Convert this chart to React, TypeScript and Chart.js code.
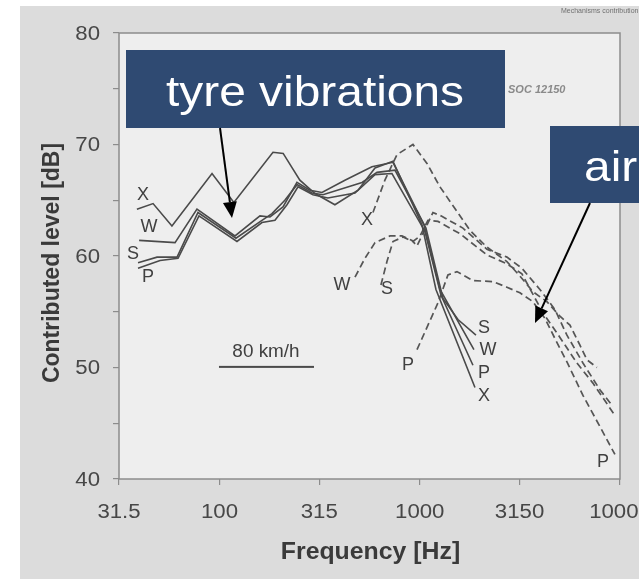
import React, { useEffect, useRef } from 'react';
import { Chart, registerables } from 'chart.js';

Chart.register(...registerables);

// ---------- axis ticks ----------
const X_TICKS = [31.5, 100, 315, 1000, 3150, 10000];
const X_TICK_LABELS = ['31.5', '100', '315', '1000', '3150', '10000'];
const Y_LABEL_TICKS = [40, 50, 60, 70, 80];

// ---------- tyre vibrations (solid) ----------
const SX_F = [38.7, 46.6, 57.9, 91.8, 118, 185, 208, 252, 300, 377, 492, 598, 735, 1026, 1205, 1887];
const SX_DB = [64.2, 64.7, 62.7, 67.4, 64.8, 69.3, 69.2, 66.8, 65.6, 64.6, 65.9, 67.9, 68.5, 62.8, 57.0, 48.2];
const SW_F = [39.7, 60.0, 77.2, 119.5, 159.3, 178.7, 207.6, 243.7, 283, 325, 423, 577, 735, 1050, 1262, 1865];
const SW_DB = [61.4, 61.2, 64.2, 61.8, 63.6, 63.5, 64.4, 66.6, 65.9, 65.7, 66.8, 68.0, 68.4, 62.8, 57.0, 51.6];
const SS_F = [39.2, 48.8, 61.4, 78.1, 120.9, 163, 182.9, 212, 244, 289.7, 328.6, 515, 612, 752, 1074, 1306, 1552, 1909];
const SS_DB = [59.4, 59.9, 59.9, 63.9, 61.6, 63.2, 63.8, 65.0, 66.4, 65.65, 65.5, 66.6, 67.5, 67.7, 62.5, 56.2, 54.3, 52.9];
const SP_F = [39.2, 50.5, 62.1, 79.0, 122.3, 163, 189.3, 217.3, 246.7, 293, 348, 475, 598, 726.6, 1062, 1276, 1844];
const SP_DB = [58.9, 59.6, 59.8, 63.6, 61.3, 63.0, 63.2, 64.6, 66.2, 65.5, 65.2, 65.65, 67.3, 67.4, 62.2, 56.5, 50.2];

// ---------- air pumping (dashed) ----------
const DX_F = [584, 670, 770, 925, 1087, 1262, 1534, 1781, 2166, 2725, 3165, 3676, 4317, 5013, 5624, 6309, 6832, 7667];
const DX_DB = [63.9, 66.8, 69.1, 70.0, 68.3, 66.2, 64.0, 62.3, 60.8, 59.5, 58.2, 56.8, 55.9, 54.6, 53.8, 52.0, 50.7, 50.0];
const DW_F = [475, 533, 598, 710, 815, 915, 969, 1164, 1276, 1643, 2166, 2725, 3238, 3982, 4731, 5433, 6531, 7939, 9218];
const DW_DB = [58.1, 59.8, 61.2, 61.8, 61.8, 61.4, 60.9, 63.9, 63.6, 62.5, 60.6, 59.9, 58.9, 57.0, 55.2, 52.9, 50.4, 48.0, 46.5];
const DS_F = [640, 686, 735, 825, 925, 1003, 1099, 1233, 1588, 2166, 2725, 3238, 4123, 5013, 6094, 7325, 9433];
const DS_DB = [57.4, 59.5, 61.3, 61.7, 61.3, 61.8, 63.2, 63.1, 62.0, 60.1, 59.3, 58.4, 54.9, 52.7, 50.4, 48.6, 45.7];
const DP_F = [969, 1233, 1383, 1534, 1844, 2321, 2725, 3165, 3676, 4219, 4731, 5433, 6531, 7939, 9433];
const DP_DB = [51.6, 55.8, 58.3, 58.6, 57.8, 57.7, 57.2, 56.7, 55.9, 54.4, 52.6, 50.5, 47.5, 44.7, 42.2];

// ---------- curve labels ----------
const CURVE_LABELS = ['X', 'W', 'S', 'P', 'S', 'W', 'P', 'X', 'X', 'W', 'S', 'P', 'P'];
const CURVE_LABEL_F = [41.5, 44.5, 37.0, 44.0, 2092, 2191, 2092, 2092, 545, 409, 686, 873, 8219];
const CURVE_LABEL_DB = [65.5, 62.6, 60.2, 58.1, 53.5, 51.6, 49.5, 47.4, 63.2, 57.4, 57.0, 50.2, 41.5];
const SPEED_LABEL = '80 km/h';
const SPEED_F = 170.7;
const SPEED_DB = 51.4;

const FONT = '"Liberation Sans", Arial, sans-serif';

function txt(ctx: CanvasRenderingContext2D, s: string, x: number, y: number, font: string, color: string,
  align: CanvasTextAlign = 'center', base: CanvasTextBaseline = 'middle', sx = 1) {
  ctx.save();
  ctx.font = font;
  ctx.fillStyle = color;
  ctx.textAlign = align;
  ctx.textBaseline = base;
  ctx.translate(x, y);
  ctx.scale(sx, 1);
  ctx.fillText(s, 0, 0);
  ctx.restore();
}

function arrow(ctx: CanvasRenderingContext2D, x1: number, y1: number, x2: number, y2: number, head = 16, w = 7) {
  const ang = Math.atan2(y2 - y1, x2 - x1);
  const bx = x2 - head * Math.cos(ang);
  const by = y2 - head * Math.sin(ang);
  ctx.save();
  ctx.strokeStyle = '#000';
  ctx.lineWidth = 2;
  ctx.beginPath();
  ctx.moveTo(x1, y1);
  ctx.lineTo(bx, by);
  ctx.stroke();
  ctx.fillStyle = '#000';
  ctx.beginPath();
  ctx.moveTo(x2, y2);
  ctx.lineTo(bx + w * Math.sin(ang), by - w * Math.cos(ang));
  ctx.lineTo(bx - w * Math.sin(ang), by + w * Math.cos(ang));
  ctx.closePath();
  ctx.fill();
  ctx.restore();
}

const bgPlugin = {
  id: 'bg',
  beforeDraw(chart: any) {
    const { ctx, chartArea: a, width, height } = chart;
    ctx.save();
    ctx.fillStyle = '#ffffff';
    ctx.fillRect(0, 0, width, height);
    ctx.fillStyle = '#dcdcdc';
    ctx.fillRect(20, 6, width - 20, height - 6);
    ctx.fillStyle = '#eeeeee';
    ctx.fillRect(a.left, a.top, a.right - a.left, a.bottom - a.top);
    ctx.restore();
  },
};

const overlayPlugin = {
  id: 'overlay',
  afterDraw(chart: any) {
    const { ctx, chartArea: a } = chart;
    const xs = chart.scales.x;
    const ys = chart.scales.y;
    ctx.save();
    // frame
    ctx.strokeStyle = '#8c8c8c';
    ctx.lineWidth = 1.5;
    ctx.strokeRect(a.left, a.top, a.right - a.left, a.bottom - a.top);

    // tick labels
    X_TICKS.forEach((v, i) => {
      txt(ctx, X_TICK_LABELS[i], xs.getPixelForValue(v), 512, `20px ${FONT}`, '#474747', 'center', 'middle', 1.11);
    });
    Y_LABEL_TICKS.forEach((v) => {
      txt(ctx, String(v), 100, ys.getPixelForValue(v) + 1, `20px ${FONT}`, '#474747', 'right', 'middle', 1.11);
    });

    // axis titles
    txt(ctx, 'Frequency [Hz]', (a.left + a.right) / 2 + 1, 553, `bold 23px ${FONT}`, '#3a3a3a', 'center', 'middle', 1.08);
    ctx.save();
    ctx.translate(52, 263);
    ctx.rotate(-Math.PI / 2);
    ctx.scale(1, 1.08);
    ctx.font = `bold 23px ${FONT}`;
    ctx.fillStyle = '#3a3a3a';
    ctx.textAlign = 'center';
    ctx.textBaseline = 'middle';
    ctx.fillText('Contributed level [dB]', 0, 0);
    ctx.restore();

    // curve labels
    CURVE_LABELS.forEach((s, i) => {
      txt(ctx, s, xs.getPixelForValue(CURVE_LABEL_F[i]), ys.getPixelForValue(CURVE_LABEL_DB[i]),
        `18px ${FONT}`, '#404040', 'center', 'middle', 1);
    });
    const sxp = xs.getPixelForValue(SPEED_F);
    const syp = ys.getPixelForValue(SPEED_DB);
    txt(ctx, SPEED_LABEL, sxp, syp, `18px ${FONT}`, '#404040', 'center', 'middle', 1.05);
    ctx.fillStyle = '#4a4a4a';
    ctx.fillRect(sxp - 47, syp + 14, 95, 2);

    // scan texts
    txt(ctx, 'SOC 12150', 508, 90, `italic bold 11px ${FONT}`, '#8a8a8a', 'left', 'middle', 1);
    txt(ctx, 'Mechanisms contribution', 561, 11, `7px ${FONT}`, '#707070', 'left', 'middle', 1);

    // annotation boxes
    ctx.fillStyle = '#2f4a72';
    ctx.fillRect(126, 50, 379, 78);
    txt(ctx, 'tyre vibrations', 315, 106, `42px ${FONT}`, '#ffffff', 'center', 'alphabetic', 1.14);
    ctx.fillStyle = '#2f4a72';
    ctx.fillRect(550, 126, 100, 77);
    txt(ctx, 'air', 584, 181, `42px ${FONT}`, '#ffffff', 'left', 'alphabetic', 1.14);

    // arrows
    arrow(ctx, 220, 128, 232, 218, 16, 7);
    arrow(ctx, 590, 203, 535, 323, 16, 7);
    ctx.restore();
  },
};

export default function App() {
  const ref = useRef<HTMLCanvasElement>(null);
  useEffect(() => {
    const canvas = ref.current;
    if (!canvas) return;
    const mk = (f: number[], d: number[]) => f.map((v, i) => ({ x: v, y: d[i] }));
    const solid = { borderColor: '#4a4a4a', borderWidth: 1.6, pointRadius: 0, tension: 0, fill: false };
    const dashed = { ...solid, borderColor: '#555555', borderWidth: 1.7, borderDash: [7, 4] };
    const grid = { drawOnChartArea: false, drawTicks: true, tickLength: 6, color: '#8c8c8c', lineWidth: 1.2 };
    const chart = new Chart(canvas, {
      type: 'line',
      data: {
        datasets: [
          { ...solid, label: 'X', data: mk(SX_F, SX_DB) },
          { ...solid, label: 'W', data: mk(SW_F, SW_DB) },
          { ...solid, label: 'S', data: mk(SS_F, SS_DB) },
          { ...solid, label: 'P', data: mk(SP_F, SP_DB) },
          { ...dashed, label: "X'", data: mk(DX_F, DX_DB) },
          { ...dashed, label: "W'", data: mk(DW_F, DW_DB) },
          { ...dashed, label: "S'", data: mk(DS_F, DS_DB) },
          { ...dashed, label: "P'", data: mk(DP_F, DP_DB) },
        ] as any,
      },
      options: {
        animation: false,
        responsive: false,
        parsing: false as any,
        layout: { padding: { left: 0, top: 33, right: 19, bottom: 0 } },
        plugins: { legend: { display: false }, tooltip: { enabled: false } },
        scales: {
          x: {
            type: 'logarithmic',
            min: 31.5,
            max: 10000,
            afterBuildTicks: (s: any) => { s.ticks = X_TICKS.map((v) => ({ value: v })); },
            ticks: { display: false },
            grid,
            border: { display: false },
            afterFit: (s: any) => { s.height = 100; s.paddingLeft = 0; s.paddingRight = 0; },
          },
          y: {
            type: 'linear',
            min: 40,
            max: 80,
            ticks: { display: false, stepSize: 5 },
            grid,
            border: { display: false },
            afterFit: (s: any) => { s.width = 119; s.paddingTop = 0; s.paddingBottom = 0; },
          },
        } as any,
      },
      plugins: [bgPlugin, overlayPlugin],
    });
    return () => chart.destroy();
  }, []);
  return (
    <div style={{ position: 'fixed', left: 0, top: 0, width: 639, height: 579, background: '#fff', overflow: 'hidden' }}>
      <canvas ref={ref} width={639} height={579} style={{ display: 'block', width: 639, height: 579 }} />
    </div>
  );
}
